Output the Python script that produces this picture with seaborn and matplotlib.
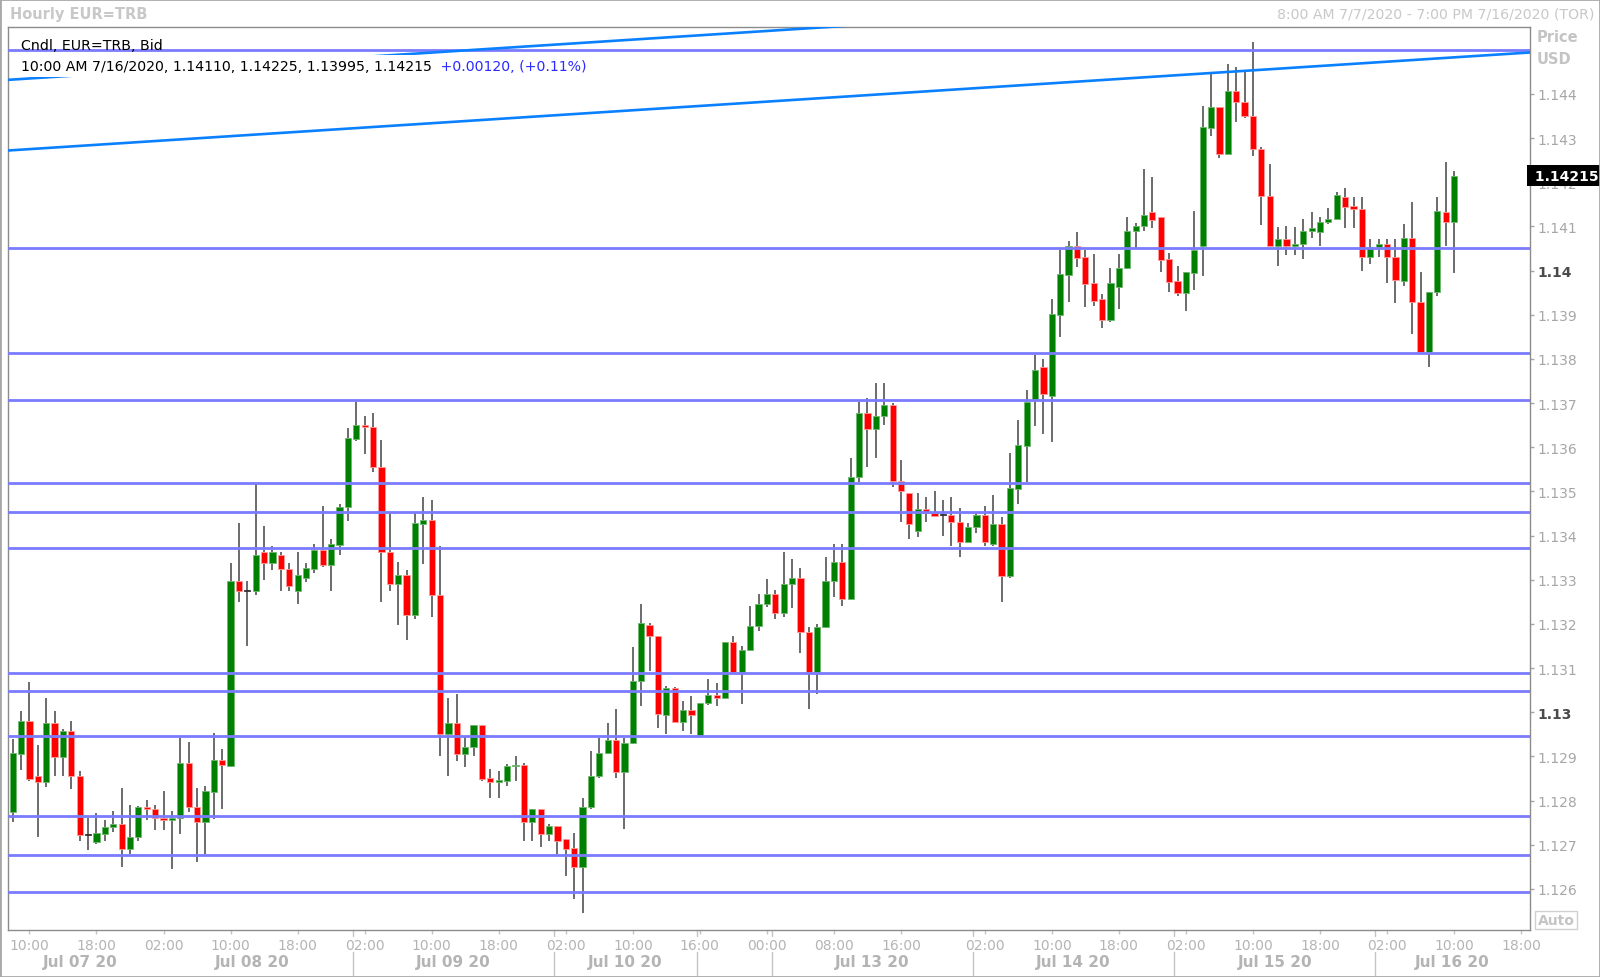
import matplotlib
matplotlib.use("Agg")
import matplotlib.pyplot as plt
import matplotlib.transforms as mtransforms
from matplotlib.patches import Rectangle
import pandas as pd
import seaborn as sns

# Hourly EUR=TRB candles, Jul 7 08:00 -> Jul 16 10:00 (one value per bar)
opens = [1.12775, 1.12906, 1.12981, 1.12855, 1.12841, 1.12976, 1.12899, 1.12958, 1.12855, 1.12722,
         1.12706, 1.12724, 1.12741, 1.12746, 1.12690, 1.12717, 1.12786, 1.12781, 1.12760, 1.12755,
         1.12760, 1.12885, 1.12786, 1.12751, 1.12820, 1.12892, 1.12879, 1.13298, 1.13275, 1.13274,
         1.13362, 1.13339, 1.13356, 1.13324, 1.13274, 1.13304, 1.13324, 1.13367, 1.13334, 1.13379,
         1.13464, 1.13619, 1.13651, 1.13647, 1.13556, 1.13362, 1.13290, 1.13311, 1.13221, 1.13426,
         1.13435, 1.13266, 1.12951, 1.12976, 1.12905, 1.12922, 1.12971, 1.12851, 1.12841, 1.12845,
         1.12878, 1.12881, 1.12751, 1.12782, 1.12724, 1.12742, 1.12712, 1.12692, 1.12649, 1.12785,
         1.12856, 1.12908, 1.12938, 1.12865, 1.12930, 1.13070, 1.13198, 1.13172, 1.12994, 1.13056,
         1.12979, 1.13006, 1.12949, 1.13021, 1.13040, 1.13032, 1.13158, 1.13090, 1.13142, 1.13196,
         1.13244, 1.13268, 1.13225, 1.13290, 1.13305, 1.13181, 1.13090, 1.13192, 1.13298, 1.13341,
         1.13256, 1.13532, 1.13677, 1.13641, 1.13670, 1.13696, 1.13524, 1.13496, 1.13411, 1.13460,
         1.13451, 1.13447, 1.13447, 1.13431, 1.13385, 1.13420, 1.13447, 1.13381, 1.13426, 1.13309,
         1.13506, 1.13604, 1.13709, 1.13781, 1.13715, 1.13899, 1.13990, 1.14056, 1.14030, 1.13973,
         1.13936, 1.13888, 1.13964, 1.14005, 1.14089, 1.14100, 1.14132, 1.14121, 1.14026, 1.13976,
         1.13949, 1.13995, 1.14055, 1.14324, 1.14371, 1.14264, 1.14406, 1.14381, 1.14351, 1.14275,
         1.14170, 1.14055, 1.14071, 1.14055, 1.14060, 1.14090, 1.14087, 1.14110, 1.14116, 1.14166,
         1.14147, 1.14139, 1.14030, 1.14053, 1.14060, 1.14030, 1.13976, 1.14075, 1.13930, 1.13816,
         1.13951, 1.14132, 1.14110]
highs = [1.12939, 1.13002, 1.13068, 1.12926, 1.13032, 1.13002, 1.12962, 1.12981, 1.12866, 1.12760,
         1.12772, 1.12756, 1.12776, 1.12828, 1.12791, 1.12788, 1.12801, 1.12791, 1.12821, 1.12776,
         1.12942, 1.12932, 1.12828, 1.12832, 1.12953, 1.12917, 1.13337, 1.13428, 1.13298, 1.13517,
         1.13422, 1.13377, 1.13362, 1.13337, 1.13362, 1.13337, 1.13382, 1.13466, 1.13392, 1.13471,
         1.13644, 1.13703, 1.13670, 1.13677, 1.13617, 1.13453, 1.13341, 1.13321, 1.13453, 1.13487,
         1.13481, 1.13377, 1.13032, 1.13041, 1.12943, 1.12971, 1.12971, 1.12871, 1.12866, 1.12883,
         1.12902, 1.12885, 1.12782, 1.12782, 1.12747, 1.12742, 1.12712, 1.12727, 1.12805, 1.12912,
         1.12942, 1.12976, 1.13007, 1.12942, 1.13147, 1.13246, 1.13201, 1.13173, 1.13059, 1.13058,
         1.13026, 1.13036, 1.13021, 1.13075, 1.13066, 1.13158, 1.13172, 1.13149, 1.13241, 1.13268,
         1.13302, 1.13277, 1.13362, 1.13347, 1.13326, 1.13192, 1.13200, 1.13351, 1.13382, 1.13382,
         1.13576, 1.13702, 1.13711, 1.13745, 1.13745, 1.13700, 1.13571, 1.13496, 1.13496, 1.13487,
         1.13502, 1.13481, 1.13487, 1.13462, 1.13428, 1.13453, 1.13466, 1.13492, 1.13441, 1.13587,
         1.13662, 1.13730, 1.13809, 1.13801, 1.13936, 1.14047, 1.14068, 1.14088, 1.14047, 1.14038,
         1.13947, 1.14007, 1.14038, 1.14121, 1.14107, 1.14231, 1.14213, 1.14121, 1.14041, 1.14011,
         1.13996, 1.14136, 1.14372, 1.14445, 1.14371, 1.14469, 1.14460, 1.14450, 1.14517, 1.14281,
         1.14241, 1.14098, 1.14102, 1.14098, 1.14117, 1.14133, 1.14121, 1.14141, 1.14177, 1.14186,
         1.14166, 1.14166, 1.14071, 1.14071, 1.14071, 1.14071, 1.14105, 1.14156, 1.13996, 1.13951,
         1.14166, 1.14247, 1.14225]
lows = [1.12751, 1.12869, 1.12845, 1.12717, 1.12830, 1.12855, 1.12855, 1.12826, 1.12709, 1.12687,
        1.12702, 1.12709, 1.12728, 1.12649, 1.12679, 1.12709, 1.12755, 1.12734, 1.12734, 1.12645,
        1.12725, 1.12774, 1.12660, 1.12679, 1.12758, 1.12781, 1.12875, 1.13250, 1.13149, 1.13266,
        1.13300, 1.13323, 1.13274, 1.13274, 1.13244, 1.13296, 1.13315, 1.13330, 1.13274, 1.13355,
        1.13434, 1.13615, 1.13585, 1.13545, 1.13250, 1.13274, 1.13198, 1.13164, 1.13210, 1.13336,
        1.13215, 1.12900, 1.12855, 1.12890, 1.12875, 1.12900, 1.12845, 1.12805, 1.12805, 1.12834,
        1.12845, 1.12709, 1.12709, 1.12694, 1.12709, 1.12679, 1.12630, 1.12578, 1.12545, 1.12781,
        1.12850, 1.12905, 1.12850, 1.12736, 1.12928, 1.13015, 1.13094, 1.12964, 1.12951, 1.12979,
        1.12958, 1.12951, 1.12949, 1.13016, 1.13015, 1.13032, 1.13090, 1.13019, 1.13139, 1.13185,
        1.13238, 1.13210, 1.13215, 1.13235, 1.13134, 1.13007, 1.13041, 1.13190, 1.13260, 1.13241,
        1.13256, 1.13522, 1.13555, 1.13575, 1.13650, 1.13511, 1.13430, 1.13392, 1.13396, 1.13430,
        1.13445, 1.13400, 1.13377, 1.13351, 1.13385, 1.13406, 1.13376, 1.13376, 1.13250, 1.13305,
        1.13472, 1.13522, 1.13649, 1.13630, 1.13613, 1.13850, 1.13930, 1.14009, 1.13918, 1.13921,
        1.13869, 1.13884, 1.13914, 1.14004, 1.14050, 1.14089, 1.14096, 1.13998, 1.13951, 1.13943,
        1.13909, 1.13955, 1.13987, 1.14305, 1.14256, 1.14264, 1.14336, 1.14345, 1.14260, 1.14103,
        1.14055, 1.14010, 1.14035, 1.14035, 1.14026, 1.14075, 1.14055, 1.14105, 1.14116, 1.14096,
        1.14096, 1.14000, 1.14015, 1.14030, 1.13972, 1.13927, 1.13966, 1.13856, 1.13816, 1.13781,
        1.13943, 1.14055, 1.13995]
closes = [1.12907, 1.12981, 1.12849, 1.12841, 1.12976, 1.12899, 1.12958, 1.12855, 1.12721, 1.12722,
          1.12727, 1.12741, 1.12746, 1.12690, 1.12717, 1.12786, 1.12781, 1.12760, 1.12755, 1.12760,
          1.12885, 1.12785, 1.12751, 1.12821, 1.12892, 1.12881, 1.13298, 1.13274, 1.13275, 1.13356,
          1.13339, 1.13362, 1.13324, 1.13285, 1.13311, 1.13326, 1.13367, 1.13334, 1.13382, 1.13465,
          1.13621, 1.13651, 1.13645, 1.13555, 1.13362, 1.13290, 1.13311, 1.13221, 1.13428, 1.13435,
          1.13266, 1.12951, 1.12976, 1.12905, 1.12922, 1.12971, 1.12849, 1.12841, 1.12846, 1.12878,
          1.12881, 1.12751, 1.12782, 1.12724, 1.12742, 1.12709, 1.12690, 1.12649, 1.12786, 1.12856,
          1.12908, 1.12938, 1.12865, 1.12930, 1.13071, 1.13201, 1.13172, 1.12995, 1.13056, 1.12979,
          1.13006, 1.12994, 1.13021, 1.13040, 1.13032, 1.13158, 1.13090, 1.13142, 1.13196, 1.13245,
          1.13268, 1.13225, 1.13290, 1.13305, 1.13181, 1.13090, 1.13192, 1.13298, 1.13341, 1.13256,
          1.13532, 1.13677, 1.13641, 1.13670, 1.13696, 1.13524, 1.13502, 1.13426, 1.13460, 1.13451,
          1.13445, 1.13447, 1.13430, 1.13385, 1.13420, 1.13447, 1.13385, 1.13426, 1.13309, 1.13507,
          1.13605, 1.13703, 1.13776, 1.13721, 1.13902, 1.13992, 1.14056, 1.14028, 1.13970, 1.13932,
          1.13888, 1.13972, 1.14007, 1.14090, 1.14102, 1.14126, 1.14115, 1.14025, 1.13975, 1.13949,
          1.13996, 1.14047, 1.14326, 1.14371, 1.14264, 1.14406, 1.14381, 1.14351, 1.14275, 1.14170,
          1.14055, 1.14071, 1.14055, 1.14060, 1.14090, 1.14096, 1.14111, 1.14117, 1.14171, 1.14145,
          1.14139, 1.14030, 1.14053, 1.14060, 1.14030, 1.13979, 1.14075, 1.13930, 1.13816, 1.13951,
          1.14136, 1.14109, 1.14215]

# horizontal support / resistance levels
levels = [1.14500, 1.14051, 1.13813, 1.13707, 1.13519, 1.13454, 1.13372,
          1.13089, 1.13049, 1.12946, 1.12765, 1.12677, 1.12592]

# rising channel (two points each, in bar index / price)
trend_x = [-0.56, 181.06]
trend_lower = [1.14272, 1.14494]
trend_upper = [1.14432, 1.14654]

# x axis: bar index of each time label
time_ticks = [2, 10, 18, 26, 34, 42, 50, 58, 66, 74, 82, 90, 98, 106,
              116, 124, 132, 140, 148, 156, 164, 172, 180]
time_labels = ["10:00", "18:00", "02:00", "10:00", "18:00", "02:00", "10:00", "18:00",
               "02:00", "10:00", "16:00", "00:00", "08:00", "16:00", "02:00", "10:00",
               "18:00", "02:00", "10:00", "18:00", "02:00", "10:00", "18:00"]
day_bounds = [-0.56, 16.6, 40.6, 64.6, 81.6, 90.6, 114.6, 138.6, 162.6, 181.06]
day_names = ["Jul 07 20", "Jul 08 20", "Jul 09 20", "Jul 10 20", "",
             "Jul 13 20", "Jul 14 20", "Jul 15 20", "Jul 16 20"]

price_ticks = [1.126, 1.127, 1.128, 1.129, 1.130, 1.131, 1.132, 1.133, 1.134, 1.135,
               1.136, 1.137, 1.138, 1.139, 1.140, 1.141, 1.142, 1.143, 1.144]
price_labels = ["1.126", "1.127", "1.128", "1.129", "1.13", "1.131", "1.132", "1.133", "1.134",
                "1.135", "1.136", "1.137", "1.138", "1.139", "1.14", "1.141", "1.142", "1.143", "1.144"]
last_price = 1.14215

sns.set_style("white")
plt.rcParams['font.family'] = ['DejaVu Sans']

W, H = 1600, 978


def fx(px):
    return px / W


def fy(py):
    return 1 - py / H


fig = plt.figure(figsize=(16, 9.78), dpi=100)
ax = fig.add_axes([fx(8), fy(930.5), fx(1530) - fx(8), fy(28.3) - fy(930.5)])

df = pd.DataFrame({"open": opens, "high": highs, "low": lows, "close": closes})
df["idx"] = range(len(df))
df["up"] = df["close"] >= df["open"]
df["bottom"] = df[["open", "close"]].min(axis=1)
df["height"] = (df["close"] - df["open"]).abs().clip(lower=0.000025)
doji = (df["close"] - df["open"]).abs() < 0.00002

body_col = ["#333333" if d else ("#008000" if u else "#ff0000") for u, d in zip(df["up"], doji)]
edge_col = ["#333333" if d else ("#6fb96f" if u else "#ff9a9a") for u, d in zip(df["up"], doji)]

# wicks and bodies
ax.vlines(df["idx"], df["low"], df["high"], color="#444444", lw=1.1, zorder=3)
ax.bar(df["idx"], df["height"], bottom=df["bottom"], width=0.74,
       color=body_col, edgecolor=edge_col, linewidth=0.6, zorder=4)

for lvl in levels:
    ax.axhline(lvl, color="#7b7bff", lw=2.0, zorder=5)

sns.lineplot(x=trend_x, y=trend_lower, color="#0a80ff", lw=1.9, ax=ax, zorder=6, legend=False)
sns.lineplot(x=trend_x, y=trend_upper, color="#0a80ff", lw=1.9, ax=ax, zorder=6, legend=False)

ax.set_xlim(trend_x[0], trend_x[1])
ax.set_ylim(1.12508, 1.14551)
ax.set_xlabel("")
ax.set_ylabel("")

for sp in ax.spines.values():
    sp.set_color("#8c8c8c")
    sp.set_linewidth(1.0)

# right price axis
ax.yaxis.tick_right()
ax.set_yticks(price_ticks, price_labels)
ax.tick_params(axis="y", direction="out", length=3, width=1, color="#a8a8a8",
               labelcolor="#a6a6a6", labelsize=10, pad=2, right=True, left=False)
for lab in ax.get_yticklabels():
    if lab.get_text() in ("1.14", "1.13"):
        lab.set_fontweight("bold")
        lab.set_color("#4a4a4a")

# time axis
ax.set_xticks(time_ticks, time_labels)
ax.tick_params(axis="x", direction="out", length=3, width=1, color="#c4c4c4",
               labelcolor="#b4b4b4", labelsize=10, pad=3, bottom=True)

blend = mtransforms.blended_transform_factory(ax.transData, fig.transFigure)
for name, a, b in zip(day_names, day_bounds[:-1], day_bounds[1:]):
    if name:
        ax.text((a + b) / 2, fy(963), name, transform=blend, ha="center", va="center",
                fontsize=11, fontweight="bold", color="#b4b4b4")
for b in day_bounds[2:-1]:
    ax.plot([b, b], [fy(931), fy(937)], transform=blend, color="#c4c4c4", lw=1, clip_on=False)
    ax.plot([b, b], [fy(953), fy(976)], transform=blend, color="#c4c4c4", lw=1, clip_on=False)

# last price marker
pblend = mtransforms.blended_transform_factory(ax.transAxes, ax.transData)
ax.text(1.0, last_price, " 1.14215", transform=pblend, ha="left", va="center",
        fontsize=10, fontweight="bold", color="white", zorder=20, clip_on=False,
        bbox=dict(facecolor="black", edgecolor="none", pad=2.5))

# legend block inside the chart
ax.text(fx(21), fy(46), "Cndl, EUR=TRB, Bid", transform=fig.transFigure, ha="left", va="center",
        fontsize=10.2, color="black", zorder=20)
t_info = ax.text(fx(21), fy(67), "10:00 AM 7/16/2020, 1.14110, 1.14225, 1.13995, 1.14215,",
                 transform=fig.transFigure, ha="left", va="center", fontsize=10.2, color="black",
                 zorder=20, bbox=dict(facecolor="white", edgecolor="none", pad=2.5))
ax.annotate(" +0.00120, (+0.11%)", xy=(1, 0.5), xycoords=t_info, ha="left", va="center",
            fontsize=10.2, color="#2b2bff", zorder=20,
            bbox=dict(facecolor="white", edgecolor="none", pad=2.5))

# header and side captions
fig.text(fx(10), fy(15), "Hourly EUR=TRB", ha="left", va="center", fontsize=10.5,
         fontweight="bold", color="#c8c8c8")
fig.text(fx(1594), fy(15), "8:00 AM 7/7/2020 - 7:00 PM 7/16/2020 (TOR)", ha="right",
         va="center", fontsize=10.2, color="#c8c8c8")
fig.text(fx(1537), fy(38), "Price", ha="left", va="center", fontsize=10.5,
         fontweight="bold", color="#c4c4c4")
fig.text(fx(1537), fy(60), "USD", ha="left", va="center", fontsize=10.5,
         fontweight="bold", color="#c4c4c4")
fig.text(fx(1556), fy(921), "Auto", ha="center", va="center", fontsize=10, fontweight="bold",
         color="#c4c4c4", bbox=dict(facecolor="white", edgecolor="#d0d0d0", pad=1.5))

fig.patches.append(Rectangle((0, 0), 1, 1, transform=fig.transFigure, fill=False,
                             edgecolor="#a8a8a8", lw=2))

fig.savefig("out.png", dpi=100)
